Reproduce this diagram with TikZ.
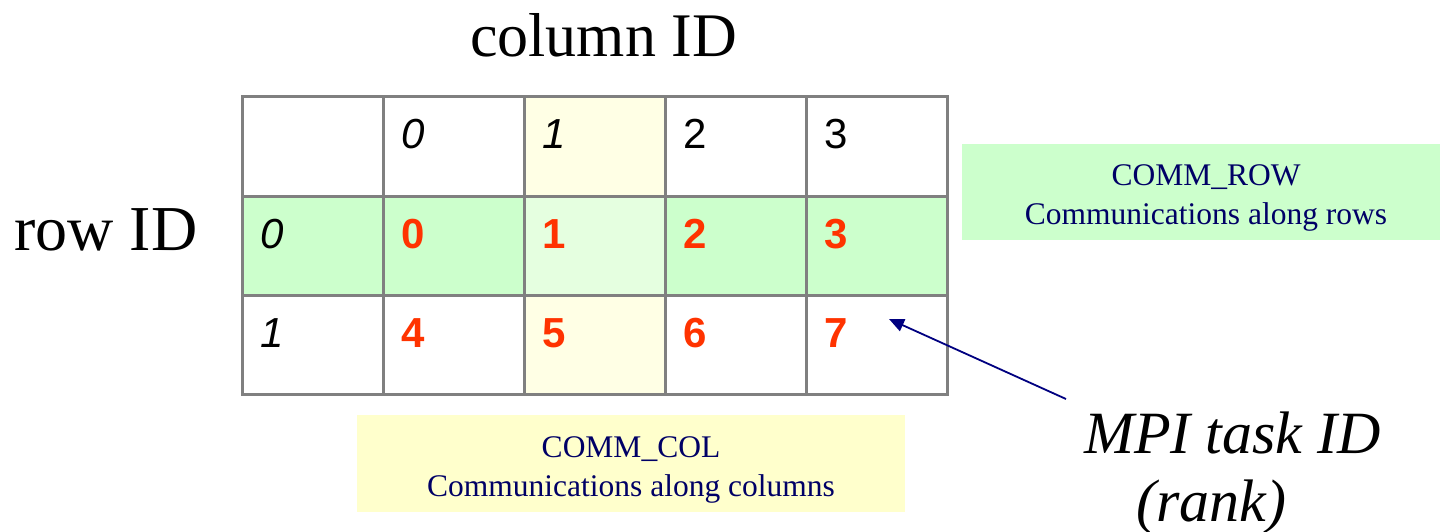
\documentclass[tikz,border=0pt]{standalone}
\usepackage{fontspec}
\setmainfont{Liberation Serif}
\newfontfamily\arialfont{Liberation Sans}
\usetikzlibrary{arrows.meta}
\definecolor{gridgray}{RGB}{128,128,128}
\definecolor{rowgreen}{RGB}{204,255,204}
\definecolor{lightgreen}{RGB}{229,255,224}
\definecolor{colyellow}{RGB}{255,255,229}
\definecolor{boxyellow}{RGB}{255,255,204}
\definecolor{rankred}{RGB}{255,51,0}
\definecolor{navytext}{RGB}{0,0,102}
\definecolor{arrownavy}{RGB}{0,0,128}
\tikzset{
  cell/.style={draw=gridgray, line width=3pt, minimum width=141pt, minimum height=99pt, inner sep=0pt, outer sep=0pt},
  digit/.style={font=\arialfont\fontsize{42}{50}\selectfont, anchor=base west, inner sep=0pt},
  rankno/.style={digit, font=\arialfont\bfseries\fontsize{42}{50}\selectfont, text=rankred},
  bigtitle/.style={font=\fontsize{62}{66}\selectfont, anchor=base west, inner sep=0pt},
  commbox/.style={font=\fontsize{31.5}{39}\selectfont, text=navytext, align=center, inner sep=0pt, outer sep=0pt},
  mpitext/.style={font=\itshape\fontsize{60}{60}\selectfont, anchor=base west, inner sep=0pt},
  conn/.style={draw=arrownavy, line width=1.8pt, -{Triangle[length=15pt,width=13pt]}}
}
\begin{document}
\begin{tikzpicture}[x=1pt,y=-1pt]
\useasboundingbox (0,0) rectangle (1441,532);
% grid cells
\foreach \r in {0,1,2}{
  \foreach \c in {0,...,4}{
    \node[cell] (c\r\c) at ({312.5+141*\c},{146.5+99*\r}) {};
  }
}
% fills
\foreach \c in {0,1,3,4}{
  \node[cell, fill=rowgreen] (g\c) at (c1\c) {};
}
\node[cell, fill=colyellow] (y0) at (c02) {};
\node[cell, fill=lightgreen] (y1) at (c12) {};
\node[cell, fill=colyellow] (y2) at (c22) {};
% header digits
\node[digit] (h0) at (401,149) {\itshape 0};
\node[digit] (h1) at (542,149) {\itshape 1};
\node[digit] (h2) at (683,149) {2};
\node[digit] (h3) at (824,149) {3};
% row labels
\node[digit] (r0) at (260,248) {\itshape 0};
\node[digit] (r1) at (260,347) {\itshape 1};
% ranks
\node[rankno] (k0) at (401,248) {0};
\node[rankno] (k1) at (542,248) {1};
\node[rankno] (k2) at (683,248) {2};
\node[rankno] (k3) at (824,248) {3};
\node[rankno] (k4) at (401,347) {4};
\node[rankno] (k5) at (542,347) {5};
\node[rankno] (k6) at (683,347) {6};
\node[rankno] (k7) at (824,347) {7};
% titles
\node[bigtitle] (colid) at (470,57) {column ID};
\node[bigtitle, font=\fontsize{64}{66}\selectfont] (rowid) at (14,250) {row ID};
% comm boxes
\fill[rowgreen] (962,144) rectangle (1440,240);
\node[commbox] (commrow) at (1206,198) {COMM\_ROW\\Communications along rows};
\fill[boxyellow] (357,415) rectangle (905,512);
\node[commbox] (commcol) at (631,470) {COMM\_COL\\Communications along columns};
% MPI label
\node[mpitext] (mpi) at (1084,453) {MPI task ID};
\node[mpitext] (rank) at (1136,521) {(rank)};
% arrow
\coordinate (arrS) at (1066,399);
\coordinate (arrE) at (889,319);
\draw[conn] (arrS) -- (arrE);
\end{tikzpicture}
\end{document}
